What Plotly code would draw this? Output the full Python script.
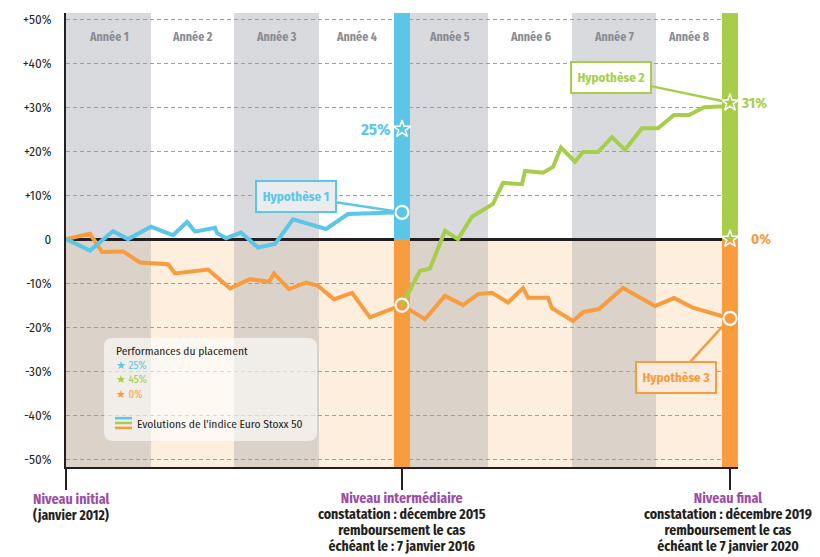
import plotly.graph_objects as go

# ---------------- data ----------------
# time position along the 8-year timeline (axis units) and index evolution in %
year_labels = ["Année 1", "Année 2", "Année 3", "Année 4",
               "Année 5", "Année 6", "Année 7", "Année 8"]
year_starts = [0, 85, 168, 253, 344, 422, 506, 590]
year_ends = [85, 168, 253, 328, 422, 506, 590, 656]

obs_starts = [328, 656]          # observation dates (intermediate, final)
obs_ends = [344, 672]
obs_t = [336, 664]
obs_upper_colors = ["#5cc6e6", "#a6ce4b"]

y_ticks = [50, 40, 30, 20, 10, 0, -10, -20, -30, -40, -50]
y_ticktext = ["+50%", "+40%", "+30%", "+20%", "+10%", "0",
              "-10%", "-20%", "-30%", "-40%", "-50%"]

# Hypothèse 1 (blue) : years 1-4
blue_t = [0, 24, 47, 62, 85, 107, 121, 129, 149, 151, 160, 175, 192, 209, 227, 260, 282, 336]
blue_v = [0, -2.6, 1.8, 0, 2.8, 0.9, 3.9, 1.7, 2.6, 1.4, 0.2, 1.5, -1.9, -1.1, 4.5, 2.3, 5.7, 6.1]

# Hypothèse 3 (orange) : years 1-4 then 5-8
orange1_t = [0, 24, 36, 57, 74, 102, 109, 142, 164, 184, 203, 208, 223, 240, 252, 268, 286, 304, 331, 336]
orange1_v = [0, 1.2, -2.9, -2.8, -5.3, -5.7, -7.8, -6.9, -11.2, -9.1, -9.7, -7.8, -11.4, -9.9, -10.6,
             -13.7, -12.2, -17.8, -15.4, -15.0]
orange2_t = [336, 359, 379, 397, 412, 426, 442, 457, 462, 482, 486, 507, 517, 533, 557, 589, 608, 626, 659, 664]
orange2_v = [-15.0, -18.2, -12.9, -15.0, -12.5, -12.2, -14.4, -11.1, -13.3, -13.3, -15.7, -18.6, -16.6,
             -15.9, -11.1, -15.2, -13.4, -15.5, -17.7, -18.0]

# Hypothèse 2 (green) : years 5-8
green_t = [336, 354, 364, 379, 392, 406, 427, 437, 456, 459, 477, 487, 495, 509, 517, 532, 546, 559,
           576, 592, 608, 623, 638, 659, 664]
green_v = [-15.0, -7.2, -6.7, 1.9, 0, 5.1, 8.0, 12.8, 12.5, 15.5, 15.1, 16.4, 20.8, 17.6, 19.8, 19.8,
           23.2, 20.3, 25.2, 25.2, 28.2, 28.2, 30.0, 30.2, 31.0]

# performances (stars)
perf_t = [336, 664, 664]
perf_v = [25, 31, 0]
perf_text = ["25%", "31%", "0%"]

legend_items = ["25%", "45%", "0%"]

initial_lines = ["Niveau initial", "(janvier 2012)"]
interm_lines = ["Niveau intermédiaire", "constatation : décembre 2015", "remboursement le cas",
                "échéant le : 7 janvier 2016"]
final_lines = ["Niveau final", "constatation : décembre 2019", "remboursement le cas",
               "échéant le 7 janvier 2020"]

# ---------------- style ----------------
BLUE = "#5cc6e6"
GREEN = "#a6ce4b"
ORANGE = "#f89d3f"
PURPLE = "#9a4fa3"
DARK = "#231f20"
GREYTXT = "#8a8c92"
FONT = "Fira Sans Condensed, Roboto Condensed, sans-serif"

Y_MIN, Y_MAX = -51.8, 51.4
X_MIN, X_MAX = 0, 672

fig = go.Figure()

shapes = []
# year bands
for i, (a, b) in enumerate(zip(year_starts, year_ends)):
    upper = "#d9dadd" if i % 2 == 0 else "#ffffff"
    lower = "#dbd2c9" if i % 2 == 0 else "#fdeede"
    shapes.append(dict(type="rect", x0=a, x1=b, y0=0, y1=Y_MAX, fillcolor=upper,
                       line=dict(width=0), layer="below"))
    shapes.append(dict(type="rect", x0=a, x1=b, y0=Y_MIN, y1=0, fillcolor=lower,
                       line=dict(width=0), layer="below"))
# observation bars
for a, b, c in zip(obs_starts, obs_ends, obs_upper_colors):
    shapes.append(dict(type="rect", x0=a, x1=b, y0=0, y1=Y_MAX, fillcolor=c,
                       line=dict(width=0), layer="between"))
    shapes.append(dict(type="rect", x0=a, x1=b, y0=Y_MIN, y1=0, fillcolor=ORANGE,
                       line=dict(width=0), layer="between"))


def rrect(x0, x1, y0, y1, rx, ry):
    return (f"M{x0+rx},{y1} L{x1-rx},{y1} Q{x1},{y1} {x1},{y1-ry} "
            f"L{x1},{y0+ry} Q{x1},{y0} {x1-rx},{y0} L{x0+rx},{y0} "
            f"Q{x0},{y0} {x0},{y0+ry} L{x0},{y1-ry} Q{x0},{y1} {x0+rx},{y1} Z")


# legend box
shapes.append(dict(type="path", path=rrect(38, 251, -45.9, -22.5, 9, 2.0),
                   fillcolor="rgba(255,255,255,0.6)", line=dict(width=0), layer="above"))
for yy, c in zip([-40.7, -41.8, -42.9], [BLUE, GREEN, ORANGE]):
    shapes.append(dict(type="line", x0=49, x1=66, y0=yy, y1=yy,
                       line=dict(color=c, width=2.5), layer="above"))

# lines
for t, v, c in [(orange1_t, orange1_v, ORANGE), (orange2_t, orange2_v, ORANGE),
                (blue_t, blue_v, BLUE), (green_t, green_v, GREEN)]:
    fig.add_trace(go.Scatter(x=t, y=v, mode="lines", line=dict(color=c, width=4),
                             hoverinfo="skip", cliponaxis=False))

# circles at end points
fig.add_trace(go.Scatter(x=[blue_t[-1], orange1_t[-1], orange2_t[-1]],
                         y=[blue_v[-1], orange1_v[-1], orange2_v[-1]],
                         mode="markers",
                         marker=dict(symbol="circle-open", size=13, color="white",
                                     line=dict(width=2.2, color="white")),
                         hoverinfo="skip", cliponaxis=False))
# performance stars
fig.add_trace(go.Scatter(x=perf_t, y=perf_v, mode="markers",
                         marker=dict(symbol="star-open", size=13, color="white",
                                     line=dict(width=1.5, color="white")),
                         hoverinfo="skip", cliponaxis=False))

ann = []
# year labels
for lab, a, b in zip(year_labels, year_starts, year_ends):
    ann.append(dict(x=(a + b) / 2, y=46, text=lab, showarrow=False,
                    font=dict(family=FONT, size=12, color=GREYTXT, weight="bold")))
# performance labels
ann.append(dict(x=perf_t[0], y=perf_v[0], text=perf_text[0], showarrow=False, xanchor="right",
                xshift=-10, font=dict(family=FONT, size=17, color=BLUE, weight="bold")))
ann.append(dict(x=perf_t[1], y=perf_v[1], text=perf_text[1], showarrow=False, xanchor="left",
                xshift=9, font=dict(family=FONT, size=15, color=GREEN, weight="bold")))
ann.append(dict(x=perf_t[2], y=perf_v[2], text=perf_text[2], showarrow=False, xanchor="left",
                xshift=19, font=dict(family=FONT, size=15, color=ORANGE, weight="bold")))

# hypotheses callouts
ann.append(dict(x=blue_t[-1], y=blue_v[-1], ax=-106, ay=-16, text="Hypothèse 1",
                showarrow=True, arrowhead=0, arrowwidth=2.5, arrowcolor=BLUE, standoff=7,
                bgcolor="#eaecef", bordercolor=BLUE, borderwidth=2, width=76, height=27,
                font=dict(family=FONT, size=13, color=BLUE, weight="bold")))
ann.append(dict(x=perf_t[1], y=perf_v[1], ax=-119, ay=-25, text="Hypothèse 2",
                showarrow=True, arrowhead=0, arrowwidth=2.5, arrowcolor=GREEN, standoff=8,
                bgcolor="#ffffff", bordercolor=GREEN, borderwidth=2, width=76, height=27,
                font=dict(family=FONT, size=13, color=GREEN, weight="bold")))
ann.append(dict(x=orange2_t[-1], y=orange2_v[-1], ax=-54, ay=59, text="Hypothèse 3",
                showarrow=True, arrowhead=0, arrowwidth=2.5, arrowcolor=ORANGE, standoff=8,
                bgcolor="#f9ecdf", bordercolor=ORANGE, borderwidth=2, width=76, height=27,
                font=dict(family=FONT, size=13, color=ORANGE, weight="bold")))

# legend texts
ann.append(dict(x=48, y=-25.5, text="Performances du placement", showarrow=False, xanchor="left",
                font=dict(family=FONT, size=11.5, color=DARK)))
star_lines = "<br>".join(
    f"<span style='color:{c}'>★ {lab}</span>"
    for lab, c in zip(legend_items, [BLUE, GREEN, ORANGE]))
ann.append(dict(x=48, y=-32.0, text=star_lines, showarrow=False, xanchor="left", align="left",
                yanchor="middle", font=dict(family=FONT, size=11, color=DARK)))
ann.append(dict(x=69, y=-42.0, text="Evolutions de l'indice Euro Stoxx 50", showarrow=False,
                xanchor="left", font=dict(family=FONT, size=11.5, color=DARK)))


def py(px):
    return (467 - px) / 454


def block(lines, title_size=14, body_size=13.8):
    parts = [f"<span style='color:{PURPLE};font-size:{title_size}px'>{lines[0]}</span>"]
    parts += [f"<span style='font-size:{body_size}px'>{ln}</span>" for ln in lines[1:]]
    return "<br>".join(parts)


# bottom texts (base font size sets a 16px line spacing)
ann.append(dict(xref="paper", yref="paper", x=-35 / 672, y=py(508),
                text=block(initial_lines, 14, 13.5), showarrow=False,
                xanchor="left", yanchor="middle", align="left",
                font=dict(family=FONT, size=12.3, color=DARK, weight="bold")))
ann.append(dict(xref="x", yref="paper", x=obs_t[0], y=py(522), text=block(interm_lines),
                showarrow=False, xanchor="center", yanchor="middle", align="center",
                font=dict(family=FONT, size=12.3, color=DARK, weight="bold")))
ann.append(dict(xref="x", yref="paper", x=obs_t[1] - 2, y=py(522), text=block(final_lines),
                showarrow=False, xanchor="center", yanchor="middle", align="center",
                font=dict(family=FONT, size=12.3, color=DARK, weight="bold")))

# page body adds an 8px margin: figure is 8px smaller and shifted accordingly
fig.update_layout(
    width=812, height=549,
    margin=dict(l=58, r=82, t=5, b=90),
    paper_bgcolor="white", plot_bgcolor="white",
    showlegend=False,
    shapes=shapes,
    annotations=ann,
    xaxis=dict(range=[X_MIN, X_MAX], showgrid=False, zeroline=False,
               showline=True, linecolor=DARK, linewidth=2,
               tickvals=[X_MIN] + obs_t, ticks="outside", ticklen=21, tickwidth=2,
               tickcolor=DARK, showticklabels=False, fixedrange=True),
    yaxis=dict(range=[Y_MIN, Y_MAX], tickvals=y_ticks, ticktext=y_ticktext,
               showgrid=True, gridcolor="#9e9e9e", griddash="4px,3px", gridwidth=1,
               zeroline=True, zerolinecolor=DARK, zerolinewidth=2.5,
               showline=True, linecolor=DARK, linewidth=2, ticks="",
               ticklabelstandoff=10, automargin=False,
               tickfont=dict(family=FONT, size=13, color=DARK), fixedrange=True),
)

fig.write_html("out.html")
